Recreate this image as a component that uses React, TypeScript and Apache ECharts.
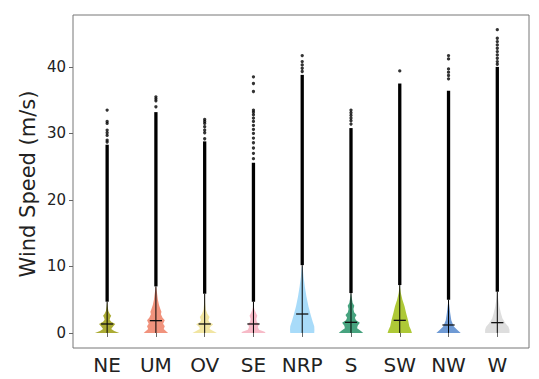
import React, { useEffect, useRef } from 'react';
import * as echarts from 'echarts';

const categories = ['NE', 'UM', 'OV', 'SE', 'NRP', 'S', 'SW', 'NW', 'W'];
const yTicks = [0, 10, 20, 30, 40];
const colors = [
  'rgba(150,150,0,0.8)',
  'rgba(236,105,75,0.72)',
  'rgba(232,212,100,0.6)',
  'rgba(242,140,162,0.6)',
  'rgba(110,195,245,0.6)',
  'rgba(25,140,95,0.8)',
  'rgba(160,192,20,0.85)',
  'rgba(55,115,195,0.72)',
  'rgba(205,205,205,0.65)',
];
const medians = [1.35, 1.85, 1.35, 1.35, 2.85, 1.6, 1.9, 1.2, 1.55];
const denseStart = [4.7, 7.0, 5.9, 4.7, 10.2, 6.0, 7.2, 5.0, 6.2];
const denseTop = [28.3, 33.2, 28.8, 25.6, 38.8, 30.8, 37.5, 36.4, 40.0];

// violin profiles: [wind speed, relative density]
const profileNE = [[0, 12], [0.3, 7], [0.6, 4], [1.0, 6], [1.35, 8], [1.7, 4], [2.0, 2.5], [2.3, 3], [2.6, 4], [2.9, 2.5], [3.3, 1.2], [4, 0.5], [4.7, 0]];
const profileUM = [[0, 11], [0.3, 9], [0.6, 7], [1.0, 8], [1.4, 6.5], [1.9, 8], [2.3, 6], [2.8, 4.5], [3.2, 5], [3.6, 4], [4.2, 2.8], [5, 1.8], [6, 1], [6.8, 0.3], [7.0, 0]];
const profileOV = [[0, 10], [0.3, 7], [0.6, 4], [0.9, 4.5], [1.3, 7], [1.6, 4], [1.9, 3], [2.4, 4], [2.9, 2.2], [3.5, 1], [4.5, 0.4], [5.9, 0]];
const profileSE = [[0, 11], [0.2, 10], [0.5, 5], [0.9, 4], [1.3, 5], [1.7, 3], [2.1, 2.5], [2.6, 3.5], [3.0, 2.2], [3.4, 1.2], [3.8, 0.5], [4.7, 0]];
const profileNRP = [[0, 12], [0.5, 12.2], [1, 12], [1.7, 10.5], [2.7, 8.5], [4, 6.2], [5.5, 4.2], [7, 2.6], [8.5, 1.3], [9.8, 0.5], [10.2, 0]];
const profileS = [[0, 11], [0.3, 9], [0.7, 5.5], [1.1, 6], [1.55, 8], [1.9, 4.5], [2.3, 3.5], [2.7, 5], [3.1, 2.8], [3.6, 2.2], [4.1, 3], [4.5, 1.5], [5.2, 0.8], [6.0, 0]];
const profileSW = [[0, 11.5], [0.5, 10.5], [1, 9], [1.8, 8], [3, 6], [4, 4.5], [5, 2.5], [6, 1], [6.8, 0.3], [7.2, 0]];
const profileNW = [[0, 11], [0.45, 8], [0.95, 5], [1.2, 4.2], [1.9, 2.5], [3, 1.5], [4, 0.8], [5, 0]];
const profileW = [[0, 12], [0.5, 12], [0.95, 11], [1.45, 8], [2.2, 5], [3, 3.5], [4, 2], [5, 1], [5.8, 0.3], [6.2, 0]];
const profiles = [profileNE, profileUM, profileOV, profileSE, profileNRP, profileS, profileSW, profileNW, profileW];

// isolated extreme points
const outliersNE = [28.7, 29.0, 29.7, 30.1, 30.5, 31.5, 31.8, 33.5];
const outliersUM = [34.0, 34.9, 35.2, 35.5];
const outliersOV = [29.2, 30.1, 30.5, 31.0, 31.5, 31.8, 32.1];
const outliersSE = [26.2, 27.0, 27.8, 28.6, 29.3, 30.0, 30.6, 31.2, 31.8, 32.3, 32.8, 33.2, 33.5, 36.3, 37.5, 38.5];
const outliersNRP = [39.3, 39.8, 40.3, 40.8, 41.7];
const outliersS = [31.4, 31.9, 32.3, 32.7, 33.1, 33.5];
const outliersSW = [39.4];
const outliersNW = [38.2, 38.7, 39.2, 39.7, 41.2, 41.7];
const outliersW = [40.4, 40.8, 41.3, 41.8, 42.3, 42.8, 43.3, 43.8, 44.3, 45.6];
const outliers = [outliersNE, outliersUM, outliersOV, outliersSE, outliersNRP, outliersS, outliersSW, outliersNW, outliersW];

export default function App() {
  const ref = useRef<HTMLDivElement>(null);
  useEffect(() => {
    const chart = echarts.init(ref.current!, null, { renderer: 'svg' });
    const positions = categories.map((_, i) => i + 1);
    const violinData = categories.map((_, i) => [i + 1, medians[i]]);
    const dotData: number[][] = [];
    outliers.forEach((arr, i) => arr.forEach((v) => dotData.push([i + 1, v])));
    const halfWidth = 0.25;
    const font = 'DejaVu Sans';

    chart.setOption({
      animation: false,
      grid: {
        left: 73, top: 15, width: 456, height: 333,
        show: true, borderColor: '#777', borderWidth: 1,
      },
      xAxis: {
        type: 'value', min: 0.3, max: 9.65,
        axisLine: { show: false },
        splitLine: { show: false },
        axisTick: { show: true, customValues: positions, length: 4, lineStyle: { color: '#666' } },
        axisLabel: {
          customValues: positions,
          formatter: (v: number) => categories[Math.round(v) - 1] ?? '',
          fontFamily: font, fontSize: 20, color: '#222', margin: 7,
        },
      },
      yAxis: {
        type: 'value', min: -2.26, max: 47.8,
        axisLine: { show: false },
        splitLine: { show: false },
        axisTick: { show: true, customValues: yTicks, length: 4, lineStyle: { color: '#666' } },
        axisLabel: { customValues: yTicks, fontFamily: font, fontSize: 15, color: '#222', margin: 7 },
      },
      graphic: [
        {
          type: 'text', x: 28, y: 184, rotation: Math.PI / 2,
          style: {
            text: 'Wind Speed (m/s)', fontFamily: font, fontSize: 21, fill: '#222',
            align: 'center', verticalAlign: 'middle',
          },
        },
      ],
      series: [
        {
          type: 'custom',
          data: violinData,
          encode: { x: 0, y: 1 },
          z: 2,
          renderItem: (params: any, api: any) => {
            const i = params.dataIndex;
            const pos = i + 1;
            const prof = profiles[i];
            const maxW = Math.max(...prof.map((p) => p[1]));
            const leftPts = prof.map(([v, w]) => api.coord([pos - (w / maxW) * halfWidth, v]));
            const rightPts = prof.slice().reverse().map(([v, w]) => api.coord([pos + (w / maxW) * halfWidth, v]));
            const b = api.coord([pos, 0]);
            const s = api.coord([pos, denseStart[i]]);
            const t = api.coord([pos, denseTop[i]]);
            const ml = api.coord([pos - 0.125, medians[i]]);
            const mr = api.coord([pos + 0.125, medians[i]]);
            return {
              type: 'group',
              children: [
                { type: 'polygon', shape: { points: leftPts.concat(rightPts) }, style: { fill: colors[i] } },
                { type: 'line', shape: { x1: b[0], y1: b[1], x2: s[0], y2: s[1] }, style: { stroke: '#000', lineWidth: 1 } },
                { type: 'line', shape: { x1: s[0], y1: s[1], x2: t[0], y2: t[1] }, style: { stroke: '#000', lineWidth: 3.3 } },
                { type: 'line', shape: { x1: ml[0], y1: ml[1], x2: mr[0], y2: mr[1] }, style: { stroke: '#111', lineWidth: 1.3 } },
              ],
            };
          },
        },
        {
          type: 'scatter',
          data: dotData,
          symbol: 'circle',
          symbolSize: 3.3,
          itemStyle: { color: '#000' },
          z: 3,
        },
      ],
    });
    return () => chart.dispose();
  }, []);
  return <div ref={ref} style={{ position: 'absolute', left: 0, top: 0, width: 539, height: 379 }} />;
}
